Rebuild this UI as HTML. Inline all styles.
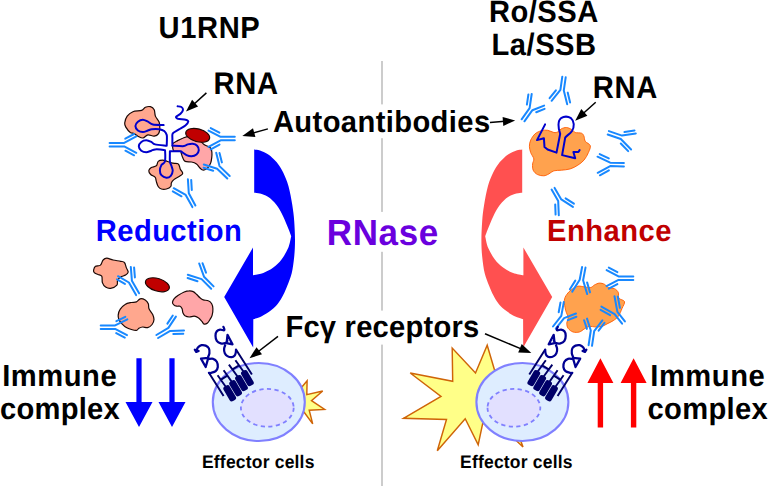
<!DOCTYPE html>
<html lang="en">
<head>
<meta charset="utf-8">
<title>RNase effect on immune complexes</title>
<style>
html,body{margin:0;padding:0;background:#fff;}
body{width:768px;height:486px;overflow:hidden;}
svg{display:block;font-family:"Liberation Sans",Arial,Helvetica,sans-serif;font-weight:bold;text-rendering:geometricPrecision;}
</style>
</head>
<body>
<svg width="768" height="486" viewBox="0 0 768 486">
<rect width="768" height="486" fill="#fff"/>
<rect x="381.2" y="61" width="1.6" height="43.4" fill="#c0c0c0"/>
<rect x="381.2" y="138.2" width="1.6" height="73.7" fill="#c0c0c0"/>
<rect x="381.2" y="251.8" width="1.6" height="58.8" fill="#c0c0c0"/>
<rect x="381.2" y="344.6" width="1.6" height="141.4" fill="#c0c0c0"/>
<path d="M254.2,149.5C255.2,149.7 257.8,149.7 260,150.4C262.2,151.2 265.3,152.7 267.5,154C269.7,155.3 271.2,156.8 273,158.5C274.8,160.2 276.3,161.6 278,163.9C279.7,166.2 281.4,168.8 283.2,172.5C284.9,176.2 287,180.8 288.5,186.2C290,191.6 291.4,199.2 292.3,205C293.2,210.8 293.8,215.2 294.2,221C294.6,226.8 295,234.1 295,240C295,245.9 294.8,251.1 294.2,256.7C293.6,262.2 292.9,268.4 291.7,273.3C290.5,278.2 288.6,282.4 287.2,286C285.8,289.6 284.7,292.1 283.2,295C281.7,297.9 279.9,301 278,303.5C276.1,306 274.4,307.7 271.7,309.8C269,311.9 264.8,314.7 261.7,316.3C258.6,317.9 254.7,318.7 253.3,319.2L253.2,347.4L224.2,297L253,247.5L253,275.3C254.7,274.9 259.9,274.3 263.3,273C266.7,271.7 270.2,269.9 273.3,267.6C276.4,265.3 279.2,262.5 281.7,259.2C284.2,255.9 286.7,251.6 288.3,247.8C289.9,244 290.7,238.2 291.2,236.3C290.8,235.1 289.8,232.4 288.5,229.1C287.2,225.8 284.9,220.2 283.2,216.5C281.4,212.8 279.7,209.6 278,207C276.3,204.4 274.8,202.8 273,201C271.2,199.2 269.7,197.7 267.5,196.5C265.3,195.3 262.2,194.2 260,193.6C257.8,193 255.2,192.9 254.2,192.8Z" fill="#0000ff"/>
<path d="M522.2,149.5C521.2,149.7 518.6,149.7 516.4,150.4C514.2,151.2 511.1,152.7 508.9,154C506.7,155.3 505.1,156.8 503.4,158.5C501.6,160.2 500.1,161.6 498.4,163.9C496.7,166.2 494.9,168.8 493.2,172.5C491.4,176.2 489.4,180.8 487.9,186.2C486.4,191.6 485,199.2 484.1,205C483.1,210.8 482.6,215.2 482.2,221C481.8,226.8 481.4,234.1 481.4,240C481.4,245.9 481.6,251.1 482.2,256.7C482.8,262.2 483.5,268.4 484.7,273.3C485.9,278.2 487.8,282.4 489.2,286C490.6,289.6 491.7,292.1 493.2,295C494.7,297.9 496.5,301 498.4,303.5C500.3,306 502,307.7 504.7,309.8C507.4,311.9 511.6,314.7 514.7,316.3C517.8,317.9 521.7,318.7 523.1,319.2L523.2,347.4L552.2,297L523.4,247.5L523.4,275.3C521.7,274.9 516.5,274.3 513.1,273C509.7,271.7 506.2,269.9 503.1,267.6C500,265.3 497.2,262.5 494.7,259.2C492.2,255.9 489.7,251.6 488.1,247.8C486.5,244 485.7,238.2 485.2,236.3C485.6,235.1 486.6,232.4 487.9,229.1C489.2,225.8 491.4,220.2 493.2,216.5C494.9,212.8 496.7,209.6 498.4,207C500.1,204.4 501.6,202.8 503.4,201C505.1,199.2 506.7,197.7 508.9,196.5C511.1,195.3 514.2,194.2 516.4,193.6C518.6,193 521.2,192.9 522.2,192.8Z" fill="#ff5050"/>
<path d="M136.4,358.2L141.6,358.2L141.6,402.1L152.5,402.1L139,427L125.5,402.1L136.4,402.1Z" fill="#0000ff"/>
<path d="M169.4,358.2L174.6,358.2L174.6,402.1L185.5,402.1L172,427L158.5,402.1L169.4,402.1Z" fill="#0000ff"/>
<path d="M597.7,427.4L603.1,427.4L603.1,382.9L613.4,382.9L600.4,358.2L587.4,382.9L597.7,382.9Z" fill="#ff0000"/>
<path d="M630.9,427.4L636.3,427.4L636.3,382.9L646.6,382.9L633.6,358.2L620.6,382.9L630.9,382.9Z" fill="#ff0000"/>
<path d="M206.4,92.9L193.6,104.5" stroke="#000" stroke-width="1.5" fill="none"/><path d="M186,111.4L192.1,99.8L198.1,106.5Z" fill="#000"/>
<path d="M267.9,128.9L252.2,133.2" stroke="#000" stroke-width="1.5" fill="none"/><path d="M242.3,135.9L253,128.3L255.4,137Z" fill="#000"/>
<path d="M490,122.4L504.9,121.2" stroke="#000" stroke-width="1.5" fill="none"/><path d="M515.2,120.4L503.3,125.9L502.6,116.9Z" fill="#000"/>
<path d="M595.7,102.3L582.9,113.8" stroke="#000" stroke-width="1.5" fill="none"/><path d="M575.2,120.7L581.3,109.1L587.4,115.8Z" fill="#000"/>
<path d="M278,336.3L257.7,352" stroke="#000" stroke-width="1.5" fill="none"/><path d="M249.5,358.3L256.5,347.2L262,354.3Z" fill="#000"/>
<path d="M485,333.8L521.8,349.1" stroke="#000" stroke-width="1.5" fill="none"/><path d="M531.3,353L518.2,352.4L521.7,344.1Z" fill="#000"/>
<g id="u1rnp">
<path d="M124.7,123C124.9,121.1 125.8,118 127.2,116.1C128.6,114.2 130.5,112.7 132.9,111.7C135.3,110.8 139.5,111.1 141.6,110.4C143.7,109.7 143.9,107.9 145.4,107.3C146.9,106.7 148.9,106.3 150.4,106.7C151.9,107.1 153.4,108.2 154.2,109.8C155,111.4 154.6,114 155.4,116.1C156.2,118.2 158.5,120.2 159.2,122.3C159.9,124.4 159.9,126.7 159.8,128.6C159.7,130.5 159.5,132.3 158.6,133.6C157.7,134.9 156,136 154.2,136.2C152.4,136.4 149.8,134.6 147.9,134.9C146,135.2 144.6,137.8 142.9,138C141.2,138.2 139.4,136.9 137.9,136.2C136.4,135.5 135.4,134.2 134.1,133.6C132.8,133 131.7,133.4 130.3,132.4C129,131.4 126.9,129 126,127.4C125.1,125.8 124.5,124.9 124.7,123Z" fill="#ffa78e" stroke="#1c0805" stroke-width="1.2" stroke-linejoin="round"/>
<path d="M172.7,143.8C173.3,142.8 174.7,142.2 176.4,141.3C178.1,140.4 180.4,139 182.7,138.2C185,137.3 187.4,136.1 190,136.2C192.6,136.3 195.7,137.6 198,139C200.3,140.4 202.2,143.2 204,144.5C205.8,145.8 207.3,145.9 208.5,146.6C209.7,147.3 210.4,147.6 211,148.6C211.6,149.6 211.8,151.1 211.9,152.5C212,153.9 212,155.3 211.8,157C211.6,158.7 211.4,160.9 210.8,162.6C210.2,164.3 209.2,166.1 208.2,167.3C207.2,168.5 205.8,169.4 204.8,169.8C203.8,170.2 202.9,170.1 202,169.7C201.1,169.3 200.5,168.6 199.6,167.6C198.7,166.6 197.8,164.8 196.5,163.9C195.2,163 193.4,162.4 191.5,162C189.6,161.6 186.7,162.1 185.2,161.4C183.7,160.7 183.3,158.9 182.7,157.6C182.1,156.3 181.8,154.9 181.4,153.8C181,152.8 181.4,151.8 180.2,151.3C178.9,150.8 175.2,151.3 173.9,150.7C172.7,150.1 172.9,148.8 172.7,147.6C172.5,146.4 172.1,144.9 172.7,143.8Z" fill="#ffa6a8" stroke="#1c0805" stroke-width="1.2" stroke-linejoin="round"/>
<path d="M148.8,170.8C148.9,169.7 150.1,168.4 151.3,167.6C152.6,166.8 155.2,166.8 156.3,165.8C157.5,164.8 157.1,162.4 158.2,161.4C159.2,160.4 161,160.1 162.6,160.1C164.2,160.1 165.8,161 167.5,161.5C169.2,162 170.9,162.8 172.7,163.2C174.5,163.6 177.1,162.9 178.3,163.9C179.6,164.9 179.5,167.3 180.2,168.9C180.9,170.5 182.7,172.2 182.7,173.3C182.7,174.5 181.7,174.8 180.2,175.8C178.7,176.9 175.4,178.4 173.9,179.6C172.4,180.8 171.9,181.5 171.4,182.7C170.9,183.8 171.6,185.4 170.8,186.5C170,187.6 168,188.6 166.4,189C164.8,189.4 162.8,189.4 161.4,189C160,188.6 159,187.8 158.2,186.5C157.3,185.2 156.8,183 156.3,181.4C155.8,179.8 156,178.2 155.1,177.1C154.2,175.9 151.8,175.6 150.7,174.5C149.6,173.4 148.7,172 148.8,170.8Z" fill="#ffa78e" stroke="#1c0805" stroke-width="1.2" stroke-linejoin="round"/>
<ellipse cx="197.7" cy="135.3" rx="12.3" ry="6.4" transform="rotate(15 197.7 135.3)" fill="#c00000" stroke="#1c0805" stroke-width="1.1"/>
<path d="M163.6,125.1C162,125 155.3,125.1 152.9,124.6C150.5,124.1 149.4,122.4 147.9,121.7C146.4,121 144.4,119.8 142.9,119.8C141.4,119.8 139,120.8 137.9,121.7C136.8,122.6 135.4,124.8 135.4,126.1C135.4,127.4 136.8,129.6 137.9,130.5C139,131.4 141.4,132.1 142.9,132.1C144.4,132.1 146.6,130.9 147.9,130.5C149.2,130.1 150,129.4 151.7,129.2C153.4,129 157.3,128.9 159.2,129.2C161.1,129.5 163.1,130.2 164.2,131.1C165.3,132 166.3,133.6 166.7,134.9C167.1,136.2 166.9,138.4 166.9,140C166.9,141.6 166.7,144.8 166.7,145.7 M166.4,145.7C164.7,145.5 157.4,145 155.1,144.4C152.8,143.8 152.6,142.5 151.3,141.9C150,141.3 147.8,140.3 146.3,140.3C144.8,140.3 142.4,141 141.3,141.9C140.2,142.8 138.8,145 138.8,146.3C138.8,147.6 140.2,149.8 141.3,150.7C142.4,151.6 144.8,152.3 146.3,152.3C147.8,152.3 150,151.1 151.3,150.7C152.6,150.3 153.2,149.5 155.1,149.4C157,149.3 162.4,149.8 163.9,150.1C165.4,150.4 164.9,149.6 165.1,151.3C165.2,153 165.5,159.3 164.9,161.4C164.3,163.5 162.2,163.8 161.4,165.1C160.7,166.4 159.9,168.7 159.9,170.2C159.9,171.7 160.4,174.1 161.4,175.2C162.4,176.3 165,177.6 166.4,177.7C167.8,177.8 169.9,176.8 170.8,175.8C171.7,174.8 172.6,172.3 172.7,170.8C172.8,169.3 171.8,167.2 171.4,165.8C171,164.4 170.1,163.6 169.9,161.4C169.7,159.2 169.9,152.8 169.9,151.3 M169.9,151.3C171.4,151.3 178.3,151.1 180.2,151.3C182.1,151.5 181.8,152 182.7,152.6C183.6,153.2 185.2,154.5 186.5,155.1C187.8,155.7 190,156.4 191.5,156.3C193,156.2 195.4,155.4 196.5,154.5C197.6,153.6 198.7,151.4 198.8,150.1C198.9,148.8 198,146.6 197.1,145.7C196.2,144.8 194.1,144 192.7,143.8C191.3,143.6 189,144.1 187.7,144.4C186.4,144.7 186.2,145.9 184,146.1C181.8,146.3 175,145.8 173.3,145.7C171.6,145.5 172.5,146.1 172.4,145.1C172.3,144.1 172.4,140.6 172.4,139C172.4,137.4 172.2,135.5 172.4,134.6C172.6,133.7 172.4,133.6 173.4,132.8C174.4,132 177.2,130.5 179,129.4C180.8,128.3 184,126.6 185.4,125.4C186.8,124.2 188.3,122.5 188.3,121.6C188.3,120.7 187.1,120.1 185.6,119.7C184.1,119.3 179.4,119.2 178,118.8C176.6,118.3 175.7,117.5 176.1,116.7C176.5,116 179.5,114.8 180.5,113.8C181.5,112.8 182.9,110.8 183,109.8C183.1,108.8 182.2,107.5 181.4,107C180.6,106.5 178.2,106.4 177.6,106.3" fill="none" stroke="#0000cc" stroke-width="2" stroke-linecap="round" stroke-linejoin="round"/>
<path d="M109.6,142.9L124.2,142.9L136.3,136.4 M125.3,138.7L134.1,134 M109.6,146.4L124.2,146.4L136.3,152.8 M125.4,150.7L134.1,155.3" fill="none" stroke="#1888ff" stroke-width="2" stroke-linecap="round" stroke-linejoin="round"/>
<path d="M234.8,136.8L220.6,136.8L208.5,130.6 M219.4,132.6L210.7,128.1 M234.8,140.3L220.6,140.3L208.5,146.9 M219.5,144.6L210.8,149.4" fill="none" stroke="#1888ff" stroke-width="2" stroke-linecap="round" stroke-linejoin="round"/>
<path d="M229.7,176L219.5,166.1L216.2,152.8 M221.9,162.4L219.5,152.9 M227.3,178.5L217.1,168.7L203.8,164.5 M213.2,170.8L203.6,167.8" fill="none" stroke="#1888ff" stroke-width="2" stroke-linecap="round" stroke-linejoin="round"/>
<path d="M195.4,205.5L188.8,193.3L187.9,179.3 M191.8,190L191.2,179.9 M192.4,207.1L185.7,194.9L173.7,188.2 M181.5,196.3L172.8,191.4" fill="none" stroke="#1888ff" stroke-width="2" stroke-linecap="round" stroke-linejoin="round"/>
</g>
<g id="dissociated">
<path d="M93.6,270.1C93.8,269.1 94.3,267.1 95.5,266.3C96.7,265.5 99.2,266.2 100.5,265.1C101.8,264.1 102,261.1 103.1,260C104.1,258.9 105.1,258.2 106.8,258.2C108.5,258.2 110.8,259.5 113.1,260C115.4,260.5 118.7,260.9 120.6,261.3C122.5,261.7 123.5,261.4 124.4,262.5C125.4,263.6 125.7,266 126.3,267.6C126.9,269.2 128.3,270.8 128.2,272C128.1,273.2 126.9,274.3 125.6,275.1C124.3,275.9 121.9,276.1 120.6,277C119.2,277.9 118.1,279.3 117.5,280.7C116.9,282.1 118.1,283.8 116.9,285.1C115.8,286.4 112.5,288 110.6,288.3C108.7,288.6 107,287.9 105.6,287C104.2,286.1 103,284.4 102.4,282.6C101.8,280.8 102.5,277.7 101.8,276.3C101.1,274.9 99.2,275.1 98,274.5C96.8,273.9 95,273.3 94.3,272.6C93.6,271.9 93.4,271.2 93.6,270.1Z" fill="#ffa78e" stroke="#1c0805" stroke-width="1.2" stroke-linejoin="round"/>
<path d="M118.2,315.1C118.4,313.4 118.9,311.2 120.1,309.4C121.2,307.6 123.2,305.5 125.1,304.4C127,303.2 129.5,302.9 131.4,302.5C133.3,302.1 134.9,302.5 136.4,301.9C137.9,301.3 138.7,299.1 140.2,298.8C141.7,298.5 143.8,299.2 145.2,300C146.5,300.8 147.7,302.3 148.3,303.8C148.9,305.3 148.3,307 149,308.8C149.7,310.6 151.9,312.7 152.7,314.5C153.5,316.3 154.1,317.8 154,319.5C153.9,321.2 153.2,323.1 152.1,324.5C151,325.9 149.3,327.2 147.7,327.6C146.1,328 144.2,326.9 142.7,327C141.2,327.1 139.9,327.7 138.9,328.3C137.9,328.9 137.7,330.2 136.4,330.4C135.2,330.6 133.1,330 131.4,329.5C129.7,329 128,328.5 126.4,327.6C124.8,326.7 123.2,325.2 122,323.9C120.8,322.5 119.5,321 118.9,319.5C118.3,318 118,316.8 118.2,315.1Z" fill="#ffa78e" stroke="#1c0805" stroke-width="1.2" stroke-linejoin="round"/>
<path d="M172.5,302.4C172.6,301.4 173.2,299.9 174.2,298.7C175.2,297.5 176.6,296.4 178.3,295.3C180,294.2 182.4,292.8 184.2,292C186,291.2 187.7,290.8 189.2,290.8C190.7,290.7 192.1,291 193.3,291.6C194.6,292.2 195.6,293.5 196.7,294.5C197.8,295.5 198.9,296.9 200,297.8C201.1,298.7 201.9,299.4 203.3,299.9C204.7,300.4 206.9,300.1 208.3,300.8C209.7,301.4 210.9,302.4 211.7,303.7C212.5,305 212.8,306.8 212.9,308.7C213,310.6 212.6,313.5 212.1,315.3C211.6,317.1 210.8,318.2 210,319.5C209.2,320.8 208.5,322.2 207.5,323C206.5,323.8 205.2,324.4 204.2,324.1C203.2,323.8 202.7,322.2 201.7,321.2C200.7,320.1 199.6,318.6 198.3,317.8C197.1,317 195.7,316.3 194.2,316.2C192.7,316.1 190.7,317.1 189.2,317C187.7,316.9 186.1,316.4 185,315.8C183.9,315.1 183.4,314 182.9,312.8C182.4,311.6 182.6,309.8 182.1,308.7C181.6,307.6 180.9,306.6 180,306.2C179.1,305.8 177.7,306.4 176.7,306.2C175.7,306 174.4,305.5 173.8,304.9C173.1,304.3 172.4,303.4 172.5,302.4Z" fill="#ffa6a8" stroke="#1c0805" stroke-width="1.2" stroke-linejoin="round"/>
<ellipse cx="157.4" cy="284.8" rx="12.4" ry="6.3" transform="rotate(17 157.4 284.8)" fill="#c00000" stroke="#1c0805" stroke-width="1.1"/>
<path d="M139.1,293.3L131.9,280.7L130.8,266.9 M134.9,277.4L134.1,267.5 M136.1,295.1L128.9,282.5L118,276.2 M124.9,283.9L117,279.3" fill="none" stroke="#1888ff" stroke-width="2" stroke-linecap="round" stroke-linejoin="round"/>
<path d="M213.6,286.4L204,276.7L199.2,263.5 M206,272.7L202.5,263.2 M211.2,288.8L201.6,279.1L187.8,274.7 M197.5,281.2L187.6,278" fill="none" stroke="#1888ff" stroke-width="2" stroke-linecap="round" stroke-linejoin="round"/>
<path d="M100.7,325.4L115.1,325.4L127.4,319.4 M116.4,321.2L125.3,316.8 M100.7,328.9L115.1,328.9L127,335.1 M116.2,333.1L124.8,337.6" fill="none" stroke="#1888ff" stroke-width="2" stroke-linecap="round" stroke-linejoin="round"/>
<path d="M156.4,335L168.4,327.9L175.9,316.6 M167.4,323.6L172.8,315.5 M158.1,338L170.2,330.9L184,330.5 M173.3,334L183.3,333.7" fill="none" stroke="#1888ff" stroke-width="2" stroke-linecap="round" stroke-linejoin="round"/>
</g>
<g id="rola">
<path d="M529.4,146.3C529.4,144.2 529.8,142.2 530.7,140.1C531.7,138 533.3,135.4 535.1,133.8C536.9,132.2 539.3,131.3 541.4,130.7C543.5,130.1 545.5,130 547.6,130.3C549.7,130.6 552.2,132.2 553.9,132.5C555.6,132.8 556.5,132.5 557.7,131.9C559,131.3 559.9,129.5 561.4,128.8C562.9,128.1 564.8,127.4 566.5,127.5C568.2,127.6 570,128.6 571.5,129.4C573,130.2 573.5,131.9 575.2,132.5C576.9,133.1 580,132.6 581.5,133.2C583,133.8 583.4,135 584,136.3C584.6,137.7 584.2,139.7 585.3,141.3C586.3,142.9 589.8,143.8 590.3,145.7C590.8,147.6 589.4,150.2 588.4,152.6C587.4,155 585.8,158 584,160.1C582.2,162.2 580.1,163.7 577.8,165.2C575.5,166.7 572.9,168.1 570.2,168.9C567.5,169.7 564.1,169.9 561.4,170.2C558.7,170.5 556,170.2 553.9,170.8C551.8,171.4 550.6,173.1 548.9,173.9C547.2,174.7 545.8,175.7 543.9,175.8C542,175.9 539.4,175.5 537.6,174.6C535.8,173.7 534,172 533.2,170.2C532.4,168.4 532.5,165.8 532.6,163.9C532.7,162 534.1,160.8 533.8,158.9C533.5,157 531.4,154.7 530.7,152.6C530,150.5 529.4,148.4 529.4,146.3Z" fill="#ffa24e" stroke="#ff5a00" stroke-width="0.9" stroke-linejoin="round"/>
<path d="M545.1,124.4L537,140.1L543.9,138.2L544.5,147L547.6,149.5L556.5,152.6L560.2,133.8C558,128 557.6,120.6 561,118.2C564,116.3 568,116.3 571,118.2C574.5,121 574.5,127 572,131C570,134 566.5,135.5 565.2,137.6L562.1,155.1L575.2,158.3L573.4,152L578.4,152L579.6,150.1" fill="none" stroke="#0000cc" stroke-width="2" stroke-linecap="round" stroke-linejoin="round"/>
<path d="M521.6,119.3L529.6,108.2L531.7,94 M526.9,104.6L528.4,94.4 M524.4,121.3L532.4,110.2L544.1,105.6 M536.2,112.2L544.6,108.9" fill="none" stroke="#1888ff" stroke-width="2" stroke-linecap="round" stroke-linejoin="round"/>
<path d="M562.3,76.7L560.4,89.8L551.6,100.8 M555.9,90.3L549.6,98.2 M565.7,77.3L563.8,90.4L567.2,104.2 M567.7,92.6L570.1,102.6" fill="none" stroke="#1888ff" stroke-width="2" stroke-linecap="round" stroke-linejoin="round"/>
<path d="M608.9,131.1L622,135.6L635.8,133.5 M624.5,132L634.5,130.5 M607.7,134.5L620.8,139L631.1,149.5 M620.8,143.5L628.2,151.1" fill="none" stroke="#1888ff" stroke-width="2" stroke-linecap="round" stroke-linejoin="round"/>
<path d="M623.9,163L610.2,162.7L597.5,156.7 M608.8,158.4L599.7,154.1 M623.9,166.4L610.2,166.1L597.7,172.8 M608.9,170.4L599.9,175.3" fill="none" stroke="#1888ff" stroke-width="2" stroke-linecap="round" stroke-linejoin="round"/>
<path d="M551.6,189.6L558.2,201.1L558.8,215.3 M555.2,204.4L555.6,214.6 M554.6,187.9L561.3,199.4L572.9,206.9 M565.6,198.3L573.9,203.7" fill="none" stroke="#1888ff" stroke-width="2" stroke-linecap="round" stroke-linejoin="round"/>
</g>
<g id="ic">
<path d="M564.3,300.7C564.5,298.1 565.5,296.3 566.8,294.4C568,292.5 569.9,290.8 571.8,289.4C573.7,288 576,286.6 578.1,286.2C580.2,285.8 582.3,286.7 584.4,286.9C586.5,287.1 589,287.8 590.7,287.5C592.4,287.2 593,285.7 594.4,285C595.8,284.3 597.7,283.2 599.4,283.1C601.1,283 603,283.6 604.5,284.3C606,285 606.5,286.8 608.2,287.5C609.9,288.2 612.8,287.9 614.5,288.7C616.2,289.5 617.6,290.9 618.3,292.5C619,294.1 617.9,296.7 618.9,298.2C619.9,299.7 624,299.9 624.5,301.6C625,303.3 623,306.1 622,308.5C621,310.9 619.8,314.3 618.3,316.3C616.8,318.3 615.1,319.4 613.2,320.7C611.3,322 608.9,322.9 607,323.9C605.1,324.8 603.9,325.9 602,326.4C600.1,326.9 597.8,327 595.7,327C593.6,327 591.3,326.1 589.4,326.4C587.5,326.7 586.1,328 584.4,328.9C582.7,329.8 581.3,331.5 579.4,332C577.5,332.5 575,332.6 573.1,332C571.2,331.4 569.2,329.8 568.1,328.3C567,326.8 566.8,325 566.8,323.2C566.8,321.4 568.3,319.8 568.1,317.6C567.9,315.4 566.2,312.9 565.6,310.1C565,307.3 564.1,303.3 564.3,300.7Z" fill="#ffa24e" stroke="#ff5a00" stroke-width="0.9" stroke-linejoin="round"/>
<path d="M582.1,267L579.7,279.7L572.2,291.6 M575.3,280.6L569.9,289.2 M585.5,267.6L583.1,280.3L587.2,294.1 M587.1,282.4L590,292.4" fill="none" stroke="#1888ff" stroke-width="2" stroke-linecap="round" stroke-linejoin="round"/>
<path d="M633.3,276.4L618.5,276.4L606.6,270.1 M617.4,272.1L608.8,267.6 M633.3,279.9L618.5,279.9L606.6,286.1 M617.4,284.1L608.8,288.6" fill="none" stroke="#1888ff" stroke-width="2" stroke-linecap="round" stroke-linejoin="round"/>
<path d="M553,326.5L561.3,315.9L563.8,302.1 M558.7,312.3L560.5,302.4 M555.8,328.7L564.1,318.1L576,313.5 M567.8,320.1L576.4,316.7" fill="none" stroke="#1888ff" stroke-width="2" stroke-linecap="round" stroke-linejoin="round"/>
<path d="M588.6,345.2L590.8,330.5L587,318.6 M586.9,328.9L584.1,320.3 M592,345.8L594.2,331.1L602.4,320.4 M598.6,330.7L604.5,322.9" fill="none" stroke="#1888ff" stroke-width="2" stroke-linecap="round" stroke-linejoin="round"/>
<path d="M624.9,321.4L617.4,311.9L614.5,296.2 M619.9,307.9L617.8,296.6 M622.1,323.6L614.6,314.1L601.4,306.6 M610.1,315.2L600.6,309.8" fill="none" stroke="#1888ff" stroke-width="2" stroke-linecap="round" stroke-linejoin="round"/>
</g>
<g id="cell-left">
<path d="M290,400L302.1,386.7L307.1,380.8L306.8,394.6L322.7,391L311.5,400.7L324.6,409.5L309.2,410.3L312.7,423.9L304.2,412.3Z" fill="#ffff88" stroke="#cf6408" stroke-width="1.45" stroke-linejoin="miter"/>
<ellipse cx="258.8" cy="402" rx="46" ry="39" fill="#deedff" stroke="#8080ff" stroke-width="2.1"/>
<ellipse cx="267.3" cy="407.8" rx="26.4" ry="18.9" fill="#e2e0ff" stroke="#8080ff" stroke-width="1.8" stroke-dasharray="4.2 3.4"/>
<path d="M217.6,375.3L226.1,387.2 M223.6,370.3L232,382.1 M228.9,364.7L237.9,377 M235.4,360.3L243.8,372 M221.4,379.4L227,375.9 M232.9,369.1L238.6,365.6 M236,349.5L251.9,374.4 M208.9,372.8L223.6,396" fill="none" stroke="#000068" stroke-width="1.95" stroke-linecap="butt"/>
<rect x="226.2" y="384.9" width="7" height="16.8" rx="2.5" fill="#000068" transform="rotate(-30.4 229.7 393.3)"/>
<rect x="232.1" y="379.8" width="7" height="16.8" rx="2.5" fill="#000068" transform="rotate(-30.4 235.6 388.2)"/>
<rect x="238" y="374.7" width="7" height="16.8" rx="2.5" fill="#000068" transform="rotate(-30.4 241.5 383.1)"/>
<rect x="243.9" y="369.7" width="7" height="16.8" rx="2.5" fill="#000068" transform="rotate(-30.4 247.4 378.1)"/>
<path d="M223.4,326.9C223.6,327.4 224.9,329.7 224.3,330.2C223.8,330.7 221.3,329.5 220.1,329.7C218.8,329.9 217.6,330.3 216.8,331.3C216,332.3 215.5,334.1 215.5,335.7C215.5,337.3 215.9,339.5 216.8,340.8C217.7,342.1 219.4,342.9 220.8,343.3C222.2,343.7 224.1,343.4 225.2,343C226.3,342.6 227,341.2 227.4,340.8 M227.5,334.9L232.5,344.3L226.6,343.1Z M225.2,345.2C225,345.8 224.2,347.5 224.1,348.8C224,350.1 224.2,352 224.8,353.2C225.4,354.4 226.2,355.4 227.4,356.1C228.6,356.8 230.5,357.3 231.7,357.2C232.9,357.1 234,356.2 234.7,355.4C235.4,354.6 235.6,353.4 235.8,352.4C236,351.4 236,350 236,349.5 M194.8,349.6L196.2,351.9L198.6,350.9 M196.3,351.2C196.6,350.6 197,348.4 197.9,347.4C198.8,346.4 200.2,345.5 201.5,345.2C202.8,344.9 204.5,345.1 205.7,345.6C206.9,346.1 208.3,347.1 208.9,348.4C209.5,349.7 209.6,351.8 209.4,353.3C209.2,354.8 208.1,356.8 207.8,357.5 M201,358.6L205.7,367L208.3,357.9Z M208.4,359.1C209.2,359.1 211.7,358.4 213.1,358.8C214.5,359.2 216,360.3 216.8,361.7C217.6,363.1 218,365.4 217.8,367C217.6,368.6 216.8,370.2 215.7,371.2C214.6,372.2 212.1,372.6 211,372.9C209.9,373.2 209.2,372.8 208.9,372.8" fill="none" stroke="#000092" stroke-width="2.25" stroke-linecap="round" stroke-linejoin="round"/>
</g>
<g id="cell-right">
<path d="M403.5,418.3L441,396.3L410.2,373L452.7,381.3L452.2,348L475.5,373L487.2,345.2L494.3,369.3L510,380L530,400L515,425L523,447L505,430L482.7,423.3L478.2,444.7L465.2,418.7L437.3,450.8L446.5,419.5Z" fill="#ffff88" stroke="#cf6408" stroke-width="1.45" stroke-linejoin="miter"/>
<g transform="translate(781.2 0) scale(-1 1)">
<ellipse cx="258.8" cy="402" rx="46" ry="39" fill="#deedff" stroke="#8080ff" stroke-width="2.1"/>
<ellipse cx="267.3" cy="407.8" rx="26.4" ry="18.9" fill="#e2e0ff" stroke="#8080ff" stroke-width="1.8" stroke-dasharray="4.2 3.4"/>
<path d="M217.6,375.3L226.1,387.2 M223.6,370.3L232,382.1 M228.9,364.7L237.9,377 M235.4,360.3L243.8,372 M221.4,379.4L227,375.9 M232.9,369.1L238.6,365.6 M236,349.5L251.9,374.4 M208.9,372.8L223.6,396" fill="none" stroke="#000068" stroke-width="1.95" stroke-linecap="butt"/>
<rect x="226.2" y="384.9" width="7" height="16.8" rx="2.5" fill="#000068" transform="rotate(-30.4 229.7 393.3)"/>
<rect x="232.1" y="379.8" width="7" height="16.8" rx="2.5" fill="#000068" transform="rotate(-30.4 235.6 388.2)"/>
<rect x="238" y="374.7" width="7" height="16.8" rx="2.5" fill="#000068" transform="rotate(-30.4 241.5 383.1)"/>
<rect x="243.9" y="369.7" width="7" height="16.8" rx="2.5" fill="#000068" transform="rotate(-30.4 247.4 378.1)"/>
<path d="M223.4,326.9C223.6,327.4 224.9,329.7 224.3,330.2C223.8,330.7 221.3,329.5 220.1,329.7C218.8,329.9 217.6,330.3 216.8,331.3C216,332.3 215.5,334.1 215.5,335.7C215.5,337.3 215.9,339.5 216.8,340.8C217.7,342.1 219.4,342.9 220.8,343.3C222.2,343.7 224.1,343.4 225.2,343C226.3,342.6 227,341.2 227.4,340.8 M227.5,334.9L232.5,344.3L226.6,343.1Z M225.2,345.2C225,345.8 224.2,347.5 224.1,348.8C224,350.1 224.2,352 224.8,353.2C225.4,354.4 226.2,355.4 227.4,356.1C228.6,356.8 230.5,357.3 231.7,357.2C232.9,357.1 234,356.2 234.7,355.4C235.4,354.6 235.6,353.4 235.8,352.4C236,351.4 236,350 236,349.5 M194.8,349.6L196.2,351.9L198.6,350.9 M196.3,351.2C196.6,350.6 197,348.4 197.9,347.4C198.8,346.4 200.2,345.5 201.5,345.2C202.8,344.9 204.5,345.1 205.7,345.6C206.9,346.1 208.3,347.1 208.9,348.4C209.5,349.7 209.6,351.8 209.4,353.3C209.2,354.8 208.1,356.8 207.8,357.5 M201,358.6L205.7,367L208.3,357.9Z M208.4,359.1C209.2,359.1 211.7,358.4 213.1,358.8C214.5,359.2 216,360.3 216.8,361.7C217.6,363.1 218,365.4 217.8,367C217.6,368.6 216.8,370.2 215.7,371.2C214.6,372.2 212.1,372.6 211,372.9C209.9,373.2 209.2,372.8 208.9,372.8" fill="none" stroke="#000092" stroke-width="2.25" stroke-linecap="round" stroke-linejoin="round"/>
</g></g>
<text transform="translate(158.6 38.4) scale(0.972 1.015)" font-size="30" fill="#000" text-anchor="start" textLength="104.1" lengthAdjust="spacing">U1RNP</text>
<text transform="translate(213.5 94.2) scale(0.972 1.045)" font-size="30" fill="#000" text-anchor="start" textLength="66.5" lengthAdjust="spacing">RNA</text>
<text transform="translate(272.9 131.8) scale(0.972 1.015)" font-size="30" fill="#000" text-anchor="start" textLength="223.5" lengthAdjust="spacing">Autoantibodies</text>
<text transform="translate(95.8 241.2) scale(0.972 1.015)" font-size="30" fill="#0000ff" text-anchor="start" textLength="150.1" lengthAdjust="spacing">Reduction</text>
<text transform="translate(326.8 244.5) scale(0.972 1.015)" font-size="36" fill="#6a00de" text-anchor="start" textLength="114.7" lengthAdjust="spacing">RNase</text>
<text transform="translate(543.6 21.8) scale(0.972 1.03)" font-size="30" fill="#000" text-anchor="middle" textLength="112.6" lengthAdjust="spacing">Ro/SSA</text>
<text transform="translate(543.8 55.1) scale(0.972 1.03)" font-size="30" fill="#000" text-anchor="middle" textLength="107.5" lengthAdjust="spacing">La/SSB</text>
<text transform="translate(592.7 98.4) scale(0.972 1.045)" font-size="30" fill="#000" text-anchor="start" textLength="66.5" lengthAdjust="spacing">RNA</text>
<text transform="translate(547 241.2) scale(0.972 1.015)" font-size="30" fill="#c00000" text-anchor="start" textLength="128" lengthAdjust="spacing">Enhance</text>
<text transform="translate(285.4 337.2) scale(0.972 1.015)" font-size="30" fill="#000" text-anchor="start" textLength="199.4" lengthAdjust="spacing">Fcγ receptors</text>
<text transform="translate(59.4 385.9) scale(0.972 1.015)" font-size="30" fill="#000" text-anchor="middle" textLength="117.8" lengthAdjust="spacing">Immune</text>
<text transform="translate(59.9 419.2) scale(0.972 1.015)" font-size="30" fill="#000" text-anchor="middle" textLength="123.1" lengthAdjust="spacing">complex</text>
<text transform="translate(707.5 385.9) scale(0.972 1.015)" font-size="30" fill="#000" text-anchor="middle" textLength="117.8" lengthAdjust="spacing">Immune</text>
<text transform="translate(707.6 419.2) scale(0.972 1.015)" font-size="30" fill="#000" text-anchor="middle" textLength="123.6" lengthAdjust="spacing">complex</text>
<text transform="translate(258.2 468.2) scale(0.972 1.015)" font-size="18" fill="#000" text-anchor="middle" textLength="115.7" lengthAdjust="spacing">Effector cells</text>
<text transform="translate(516.3 468.2) scale(0.972 1.015)" font-size="18" fill="#000" text-anchor="middle" textLength="115.7" lengthAdjust="spacing">Effector cells</text>
</svg>
</body>
</html>
